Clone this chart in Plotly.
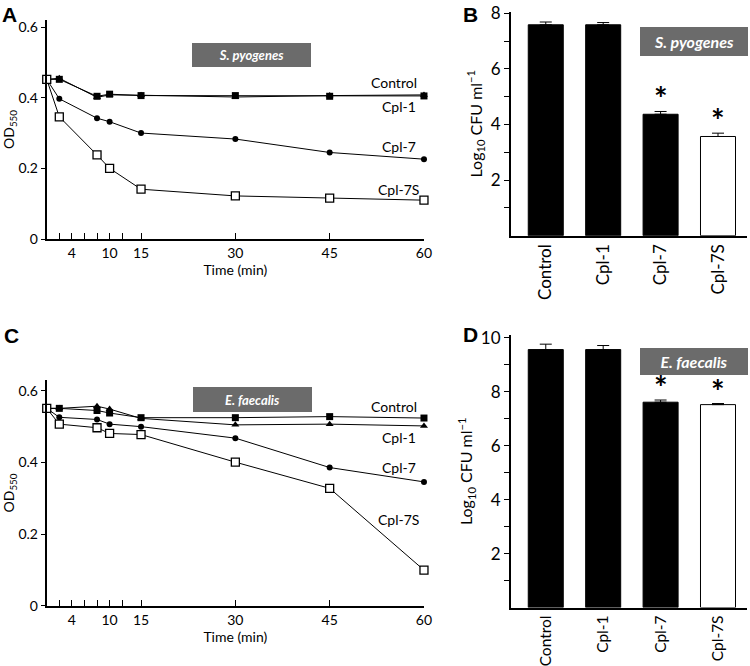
import plotly.graph_objects as go

# ---------------- data ----------------
time_min = [0, 2, 8, 10, 15, 30, 45, 60]

# Panel A: S. pyogenes, OD550
a_control = [0.452, 0.452, 0.404, 0.410, 0.406, 0.406, 0.404, 0.405]
a_cpl1 = [0.452, 0.455, 0.401, 0.408, 0.407, 0.402, 0.406, 0.408]
a_cpl7 = [0.452, 0.397, 0.342, 0.332, 0.300, 0.283, 0.245, 0.226]
a_cpl7s = [0.452, 0.346, 0.238, 0.200, 0.141, 0.122, 0.116, 0.110]

# Panel C: E. faecalis, OD550
c_control = [0.551, 0.551, 0.545, 0.538, 0.525, 0.525, 0.528, 0.524]
c_cpl1 = [0.551, 0.551, 0.557, 0.549, 0.523, 0.505, 0.507, 0.502]
c_cpl7 = [0.551, 0.526, 0.520, 0.507, 0.500, 0.468, 0.386, 0.346]
c_cpl7s = [0.551, 0.507, 0.497, 0.481, 0.478, 0.401, 0.328, 0.100]

# Bars: Log10 CFU/ml
bar_categories = ["Control", "Cpl-1", "Cpl-7", "Cpl-7S"]
b_values = [7.59, 7.59, 4.37, 3.57]
b_errors = [0.10, 0.08, 0.10, 0.12]
d_values = [9.56, 9.56, 7.61, 7.52]
d_errors = [0.20, 0.15, 0.08, 0.04]
significant = [False, False, True, True]

time_tickvals = [0, 2, 4, 6, 8, 10, 12, 15, 30, 45, 60]
time_ticktext = ["", "", "4", "", "", "10", "", "15", "30", "45", "60"]
od_tickvals = [0, 0.2, 0.4, 0.6]
od_ticktext = ["0", "0.2", "0.4", "0.6"]

FONT = "Lato"
fig = go.Figure()

series_styles = [
    ("Control", dict(symbol="square", size=7, color="black")),
    ("Cpl-1", dict(symbol="triangle-up", size=7, color="black")),
    ("Cpl-7", dict(symbol="circle", size=6, color="black")),
    ("Cpl-7S", dict(symbol="square", size=8, color="white", line=dict(color="black", width=1.3))),
]

for xa, ya, data in [("x", "y", [a_control, a_cpl1, a_cpl7, a_cpl7s]),
                     ("x3", "y3", [c_control, c_cpl1, c_cpl7, c_cpl7s])]:
    for (name, mk), vals in zip(series_styles, data):
        fig.add_trace(go.Scatter(
            x=time_min, y=vals, mode="lines+markers", name=name,
            line=dict(color="black", width=1), marker=mk,
            xaxis=xa, yaxis=ya, cliponaxis=False, showlegend=False))

bar_colors = ["black", "black", "black", "white"]
for xa, ya, vals, errs in [("x2", "y2", b_values, b_errors), ("x4", "y4", d_values, d_errors)]:
    fig.add_trace(go.Bar(
        x=bar_categories, y=vals, width=0.61,
        marker=dict(color=bar_colors, line=dict(color="black", width=1)),
        error_y=dict(type="data", symmetric=False, array=errs,
                     arrayminus=[0] * len(errs), color="black", thickness=1, width=6),
        xaxis=xa, yaxis=ya, showlegend=False))

annotations = []

# asterisks
for xa, ya, vals, errs in [("x2", "y2", b_values, b_errors), ("x4", "y4", d_values, d_errors)]:
    for cat, v, e, s in zip(bar_categories, vals, errs, significant):
        if s:
            annotations.append(dict(x=cat, y=v + e, xref=xa, yref=ya, text="<b>*</b>",
                                    showarrow=False, yanchor="bottom", yshift=-9,
                                    font=dict(family=FONT, size=32, color="black")))

# series labels on line panels
for xa, ya, pos in [("x", "y", [(55.3, 0.444), (56.0, 0.376), (56.0, 0.263), (56.0, 0.141)]),
                    ("x3", "y3", [(55.3, 0.557), (56.0, 0.471), (56.0, 0.387), (56.0, 0.242)])]:
    for (name, _), (px, py) in zip(series_styles, pos):
        annotations.append(dict(x=px, y=py, xref=xa, yref=ya, text=name, showarrow=False,
                                font=dict(family=FONT, size=14, color="black")))

# grey organism boxes (pixel sizes of the label background)
boxes = [
    ("<b><i>S. pyogenes</i></b>", 0.3353, 0.9174, 119, 24, 13),
    ("<b><i>S. pyogenes</i></b>", 0.9253, 0.9377, 108, 29, 16),
    ("<b><i>E. faecalis</i></b>", 0.3367, 0.4002, 119, 25, 13),
    ("<b><i>E. faecalis</i></b>", 0.9253, 0.4572, 108, 27, 16),
]
for txt, cx, cy, w, h, fs in boxes:
    annotations.append(dict(x=cx, y=cy, xref="paper", yref="paper",
                            text=txt, showarrow=False, width=w, height=h,
                            bgcolor="#6b6b6b", borderpad=0, borderwidth=0,
                            xanchor="center", yanchor="middle",
                            font=dict(family=FONT, size=fs, color="white")))

# panel letters
for letter, x, y in [("A", 0.0, 0.999), ("B", 0.614, 0.999), ("C", 0.002, 0.516), ("D", 0.614, 0.518)]:
    annotations.append(dict(x=x, y=y, xref="paper", yref="paper", text=f"<b>{letter}</b>",
                            showarrow=False, xanchor="left", yanchor="top",
                            font=dict(family="Liberation Sans", size=21, color="black")))

line_x_common = dict(
    range=[0, 60], tickmode="array", tickvals=time_tickvals, ticktext=time_ticktext,
    ticks="inside", ticklen=6, tickcolor="black", tickwidth=1.2,
    showline=True, linecolor="black", linewidth=2, showgrid=False, zeroline=False,
    automargin=False,
    tickfont=dict(family=FONT, size=14, color="black"),
    title=dict(text="Time (min)", font=dict(family=FONT, size=14, color="black"), standoff=4),
)
line_y_common = dict(
    tickmode="array", tickvals=od_tickvals, ticktext=od_ticktext,
    ticks="outside", ticklen=4, tickcolor="black", tickwidth=1.2,
    showline=True, linecolor="black", linewidth=2, showgrid=False, zeroline=False,
    automargin=False,
    tickfont=dict(family=FONT, size=14, color="black"),
    title=dict(text="OD<sub>550</sub>", font=dict(family=FONT, size=14, color="black"), standoff=6),
)
bar_x_common = dict(
    showline=True, linecolor="black", linewidth=1.5, ticks="", showgrid=False,
    tickangle=-90, range=[-0.61, 3.5], automargin=False,
)
bar_y_common = dict(
    ticks="outside", ticklen=5, tickcolor="black", tickwidth=1,
    showline=True, linecolor="black", linewidth=1.5, showgrid=False, zeroline=False,
    automargin=False,
    tickfont=dict(family=FONT, size=17, color="black"),
    minor=dict(ticks="outside", ticklen=5, tickcolor="black", dtick=2, tick0=1),
    title=dict(text="Log<sub>10</sub> CFU ml<sup>\u22121</sup>",
               font=dict(family=FONT, size=16, color="black"), standoff=4),
)

fig.update_layout(
    width=750, height=666,
    margin=dict(l=0, r=0, t=0, b=0, autoexpand=False),
    paper_bgcolor="white", plot_bgcolor="white",
    barmode="overlay",
    xaxis=dict(domain=[0.0623, 0.5653], anchor="y", **line_x_common),
    yaxis=dict(domain=[0.6411, 0.970], anchor="x", range=[0, 0.62], **line_y_common),
    xaxis3=dict(domain=[0.0623, 0.5653], anchor="y3", **line_x_common),
    yaxis3=dict(domain=[0.0901, 0.4294], anchor="x3", range=[0, 0.63], **line_y_common),
    xaxis2=dict(domain=[0.681, 0.9956], anchor="y2",
                tickfont=dict(family=FONT, size=17, color="black"), **bar_x_common),
    yaxis2=dict(domain=[0.6461, 0.9824], anchor="x2", range=[0, 8.06],
                tickvals=[2, 4, 6, 8], **bar_y_common),
    xaxis4=dict(domain=[0.681, 0.9956], anchor="y4",
                tickfont=dict(family=FONT, size=15.5, color="black"), **bar_x_common),
    yaxis4=dict(domain=[0.0878, 0.497], anchor="x4", range=[0, 10.1],
                tickvals=[2, 4, 6, 8, 10], **bar_y_common),
    annotations=annotations,
)

fig.write_html(
    "out.html",
    config={"displayModeBar": False},
    post_script="document.body.style.margin='0px';document.body.style.overflow='hidden';",
)
